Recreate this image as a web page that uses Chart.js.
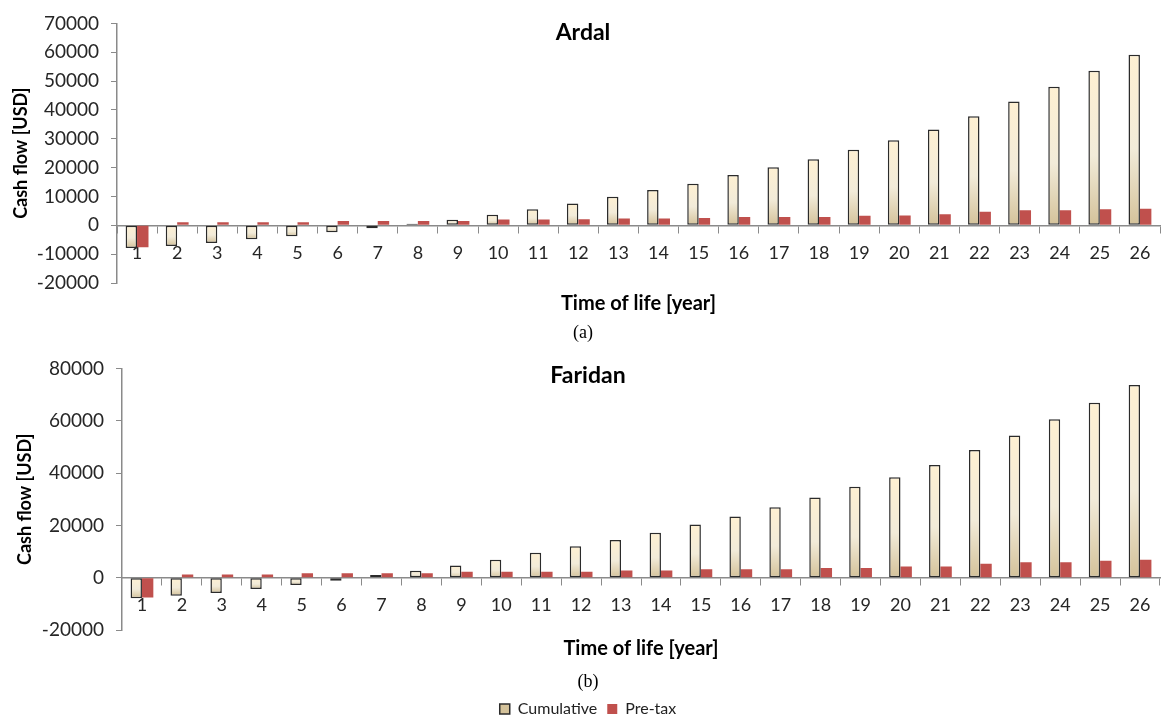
<!DOCTYPE html>
<html>
<head>
<meta charset="utf-8">
<title>Cash flow - Ardal / Faridan</title>
<script src="https://cdn.jsdelivr.net/npm/chart.js@4.4.1/dist/chart.umd.min.js"></script>
<style>
  html, body { margin: 0; padding: 0; background: #fff; overflow: hidden; }
  #page { position: relative; width: 1166px; height: 718px; overflow: hidden; }
  canvas { position: absolute; left: 0; }
</style>
</head>
<body>
<div id="page">
  <canvas id="ardalChart" width="1166" height="345" style="top:0"></canvas>
  <canvas id="faridanChart" width="1166" height="382" style="top:345px"></canvas>
</div>
<script>
// --- data ---
const years = ['1', '2', '3', '4', '5', '6', '7', '8', '9', '10', '11', '12', '13',
               '14', '15', '16', '17', '18', '19', '20', '21', '22', '23', '24', '25', '26'];

const ardalCumulative = [-7900, -7200, -6100, -4800, -3800, -2400, -1000, 500, 1900, 3700, 5600, 7600, 9900,
                         12200, 14400, 17400, 20100, 22900, 26200, 29500, 33200, 37800, 42900, 48000, 53600, 59100];
const ardalPreTax = [-7600, 1100, 1100, 1100, 1100, 1500, 1500, 1500, 1500, 2000, 2000, 2100, 2400,
                     2400, 2500, 2900, 2900, 2900, 3300, 3400, 3800, 4700, 5200, 5200, 5600, 5700];
const ardalTicks = [-20000, -10000, 0, 10000, 20000, 30000, 40000, 50000, 60000, 70000];

const faridanCumulative = [-7800, -6800, -5800, -4300, -2700, -1100, 1100, 2700, 4700, 6900, 9600, 12100, 14500,
                           17200, 20400, 23400, 27000, 30700, 34800, 38400, 43100, 48800, 54400, 60600, 66900, 73700];
const faridanPreTax = [-7500, 1300, 1300, 1300, 1800, 1800, 1800, 1800, 2300, 2300, 2300, 2300, 2800,
                       2800, 3300, 3300, 3300, 3800, 3800, 4300, 4300, 5400, 6000, 6000, 6500, 6900];
const faridanTicks = [-20000, 0, 20000, 40000, 60000, 80000];

Chart.defaults.font.family = 'Lato';
Chart.defaults.color = '#222';

const axisGrey = '#8a8a8a';
const preTaxRed = '#C0504D';

// cream-to-sand gradient, one per bar (light at top, darker at the bottom)
function creamFill(context) {
    const chart = context.chart;
    const y = chart.scales.y;
    if (context.type !== 'data' || !y) return '#F3E9CF';
    const p0 = y.getPixelForValue(0);
    const p1 = y.getPixelForValue(context.raw);
    if (!Number.isFinite(p0) || !Number.isFinite(p1)) return '#F3E9CF';
    const top = Math.min(p0, p1);
    const bottom = Math.max(p0, p1);
    if (bottom - top < 2) return '#E9DDBD';
    const g = chart.ctx.createLinearGradient(0, top, 0, bottom);
    g.addColorStop(0, '#FEF0D2');
    g.addColorStop(0.55, '#F2EBD9');
    g.addColorStop(1, '#D4C29A');
    return g;
}

function buildChart(canvasId, o) {
    const ctx = document.getElementById(canvasId).getContext('2d');
    return new Chart(ctx, {
        type: 'bar',
        data: {
            labels: years,
            datasets: [{
                label: 'Cumulative',
                data: o.cumulative,
                backgroundColor: creamFill,
                borderColor: '#2b2b2b',
                borderWidth: 1.5,
                borderSkipped: false,
                categoryPercentage: 0.57,
                barPercentage: 1.0
            }, {
                label: 'Pre-tax',
                data: o.preTax,
                backgroundColor: preTaxRed,
                borderWidth: 0,
                categoryPercentage: 0.57,
                barPercentage: 1.0
            }]
        },
        options: {
            responsive: false,
            animation: false,
            layout: { padding: { left: o.padLeft, right: 6, top: 0, bottom: o.padBottom } },
            scales: {
                x: {
                    position: { y: 0 },
                    z: 1,
                    offset: true,
                    grid: { offset: true, drawOnChartArea: false, drawTicks: true, tickLength: 7, color: axisGrey },
                    border: { color: axisGrey, width: 1.5 },
                    ticks: { font: { size: 18 }, color: '#262626', padding: 10, maxRotation: 0, autoSkip: false },
                    title: {
                        display: true,
                        text: 'Time of life [year]',
                        color: '#000',
                        font: { size: 20, weight: 'bold' },
                        padding: { top: o.xTitleGap, bottom: 0 }
                    }
                },
                y: {
                    min: o.ticks[0],
                    max: o.ticks[o.ticks.length - 1],
                    afterBuildTicks: (scale) => { scale.ticks = o.ticks.map(v => ({ value: v })); },
                    afterFit: (scale) => { scale.width = o.axisWidth; },
                    grid: { drawOnChartArea: false, drawTicks: true, tickLength: 6, color: axisGrey },
                    border: { color: axisGrey, width: 1.5 },
                    ticks: { font: { size: 19 }, color: '#262626', padding: 12, callback: (v) => String(v) },
                    title: {
                        display: true,
                        text: 'Cash flow [USD]',
                        color: '#000',
                        font: { size: 18, weight: 'bold' },
                        padding: { top: o.yTitlePad, bottom: 0 }
                    }
                }
            },
            plugins: {
                title: {
                    display: true,
                    text: o.title,
                    color: '#000',
                    font: { size: 23, weight: 'bold' },
                    padding: o.titlePadding
                },
                subtitle: {
                    display: true,
                    position: 'bottom',
                    weight: 500,
                    text: o.caption,
                    color: '#000',
                    font: { family: 'Liberation Serif', size: 18, weight: 'normal' },
                    padding: o.captionPadding
                },
                legend: {
                    display: o.showLegend,
                    position: 'bottom',
                    labels: {
                        boxWidth: 10,
                        boxHeight: 10,
                        padding: 10,
                        color: '#222',
                        font: { size: 16 }
                    }
                },
                tooltip: { enabled: false }
            }
        }
    });
}

buildChart('ardalChart', {
    title: 'Ardal',
    caption: '(a)',
    cumulative: ardalCumulative,
    preTax: ardalPreTax,
    ticks: ardalTicks,
    padLeft: 6,
    padBottom: 1.2,
    axisWidth: 111,
    yTitlePad: 4.2,
    xTitleGap: 18,
    titlePadding: { top: 14, bottom: -22.6 },
    captionPadding: { top: 39.2, bottom: 0 },
    showLegend: false
});

buildChart('faridanChart', {
    title: 'Faridan',
    caption: '(b)',
    cumulative: faridanCumulative,
    preTax: faridanPreTax,
    ticks: faridanTicks,
    padLeft: 16,
    padBottom: 0,
    axisWidth: 106,
    yTitlePad: -1.8,
    xTitleGap: 10,
    titlePadding: { top: 16, bottom: -20.6 },
    captionPadding: { top: 41.2, bottom: -2 },
    showLegend: true
});
</script>
</body>
</html>
